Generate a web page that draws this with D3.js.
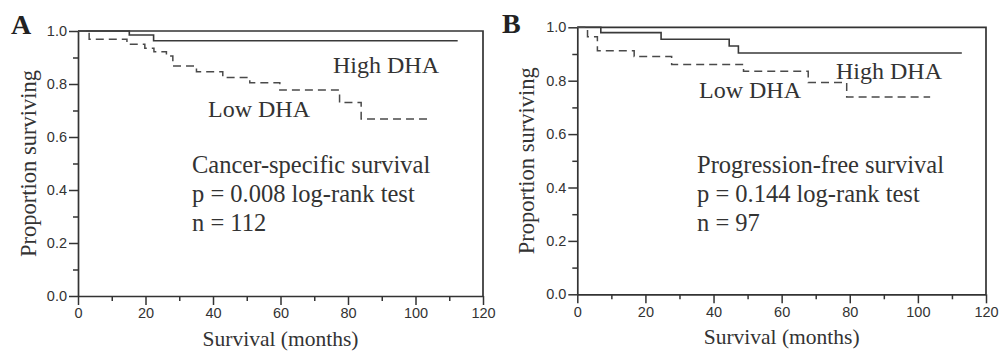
<!DOCTYPE html>
<html>
<head>
<meta charset="utf-8">
<script src="https://cdn.jsdelivr.net/npm/d3@7"></script>
<style>
  body { margin: 0; background: #fff; }
  svg { display: block; }
</style>
</head>
<body>
<div id="chart"></div>
<script>
// ---- data ----
const xTicks = [0, 20, 40, 60, 80, 100, 120];
const yTicks = [0.0, 0.2, 0.4, 0.6, 0.8, 1.0];

// panel A : cancer-specific survival
const aHighTime = [0, 15.2, 22.4, 112.5];
const aHighSurv = [1, 0.985, 0.963, 0.963];
const aLowTime = [0, 3.3, 14.5, 19.8, 22.5, 26.2, 28.1, 35.1, 42.9, 50.9, 59.8, 77.5, 83.9, 104.6];
const aLowSurv = [1, 0.969, 0.95, 0.935, 0.922, 0.906, 0.868, 0.846, 0.825, 0.805, 0.777, 0.73, 0.668, 0.668];

// panel B : progression-free survival
const bHighTime = [0, 6.9, 24.6, 44.6, 47.3, 112.9];
const bHighSurv = [1, 0.98, 0.955, 0.93, 0.904, 0.904];
const bLowTime = [0, 3.0, 5.9, 16.7, 27.7, 48.8, 67.8, 79.1, 103.6];
const bLowSurv = [1, 0.965, 0.912, 0.891, 0.861, 0.835, 0.793, 0.739, 0.739];

const panelLetters = ["A", "B"];
const annotA = ["Cancer-specific survival", "p = 0.008 log-rank test", "n = 112"];
const annotB = ["Progression-free survival", "p = 0.144 log-rank test", "n = 97"];

const W = 999, H = 353;
const ink = "#333";
const serif = "'Liberation Serif','Times New Roman',serif";
const sans = "'Liberation Sans',Arial,sans-serif";

const svg = d3.select("#chart").append("svg")
  .attr("width", W).attr("height", H)
  .attr("viewBox", `0 0 ${W} ${H}`);

const zip = (t, s) => t.map((v, i) => [v, s[i]]);

const panels = [
  { letter: panelLetters[0], left: 78, right: 483, top: 31, bottom: 296, letterX: 11, letterY: 34,
    ytitleX: 28, high: zip(aHighTime, aHighSurv), low: zip(aLowTime, aLowSurv), annot: annotA,
    annotX: 192, highLab: [333, 73], lowLab: [208, 117] },
  { letter: panelLetters[1], left: 577.3, right: 986, top: 27.3, bottom: 294.3, letterX: 502, letterY: 33,
    ytitleX: 526, high: zip(bHighTime, bHighSurv), low: zip(bLowTime, bLowSurv), annot: annotB,
    annotX: 697, highLab: [836, 79], lowLab: [699, 98] }
];

panels.forEach(p => {
  const x = d3.scaleLinear().domain([0, 120]).range([p.left, p.right]);
  const y = d3.scaleLinear().domain([0, 1]).range([p.bottom, p.top]);
  const g = svg.append("g");

  // frame (top + right)
  g.append("path")
    .attr("d", `M${p.left},${p.top}H${p.right}V${p.bottom}`)
    .attr("fill", "none").attr("stroke", ink).attr("stroke-width", 1.7);

  // minor ticks first
  g.append("g")
    .attr("transform", `translate(0,${p.bottom})`)
    .call(d3.axisBottom(x).tickValues(d3.range(10, 120, 20)).tickSize(5).tickFormat(""))
    .call(s => s.select(".domain").remove());
  g.append("g")
    .attr("transform", `translate(${p.left},0)`)
    .call(d3.axisLeft(y).tickValues([0.1, 0.3, 0.5, 0.7, 0.9]).tickSize(5).tickFormat(""))
    .call(s => s.select(".domain").remove());

  g.append("g")
    .attr("transform", `translate(0,${p.bottom})`)
    .call(d3.axisBottom(x).tickValues(xTicks).tickSize(9).tickSizeOuter(0).tickPadding(3));
  g.append("g")
    .attr("transform", `translate(${p.left},0)`)
    .call(d3.axisLeft(y).tickValues(yTicks).tickSize(9).tickSizeOuter(0).tickPadding(2)
      .tickFormat(d3.format(".1f")));

  g.selectAll(".tick line").attr("stroke", ink).attr("stroke-width", 1.5);
  g.selectAll(".domain").attr("stroke", ink).attr("stroke-width", 1.7);
  g.selectAll(".tick text").attr("fill", ink).style("font-family", sans).style("font-size", "14.5px");

  // survival curves
  const line = d3.line().x(d => x(d[0])).y(d => y(d[1])).curve(d3.curveStepAfter);
  g.append("path").datum(p.high).attr("d", line)
    .attr("fill", "none").attr("stroke", "#3a3a3a").attr("stroke-width", 1.6);
  g.append("path").datum(p.low).attr("d", line)
    .attr("fill", "none").attr("stroke", "#4a4a4a").attr("stroke-width", 1.5)
    .attr("stroke-dasharray", "8,5");

  // labels
  g.append("text").attr("x", p.letterX).attr("y", p.letterY).text(p.letter)
    .style("font-family", serif).style("font-weight", "bold").style("font-size", "28px").attr("fill", "#222");

  g.append("text")
    .attr("transform", `translate(${p.ytitleX},${(p.top + p.bottom) / 2}) rotate(-90)`)
    .attr("text-anchor", "middle").attr("dy", "0.35em")
    .text("Proportion surviving")
    .style("font-family", serif).style("font-size", "22.5px").attr("fill", ink);

  g.append("text")
    .attr("x", (p.left + p.right) / 2).attr("y", p.bottom + 50)
    .attr("text-anchor", "middle")
    .text("Survival (months)")
    .style("font-family", serif).style("font-size", "21.5px").attr("fill", ink);

  g.append("text").attr("x", p.highLab[0]).attr("y", p.highLab[1]).text("High DHA")
    .style("font-family", serif).style("font-size", "24px").attr("fill", ink);
  g.append("text").attr("x", p.lowLab[0]).attr("y", p.lowLab[1]).text("Low DHA")
    .style("font-family", serif).style("font-size", "24px").attr("fill", ink);

  g.selectAll(".annot").data(p.annot).join("text")
    .attr("x", p.annotX).attr("y", (d, i) => 173 + i * 29)
    .text(d => d)
    .style("font-family", serif).style("font-size", "24.5px").attr("fill", ink);
});
</script>
</body>
</html>
